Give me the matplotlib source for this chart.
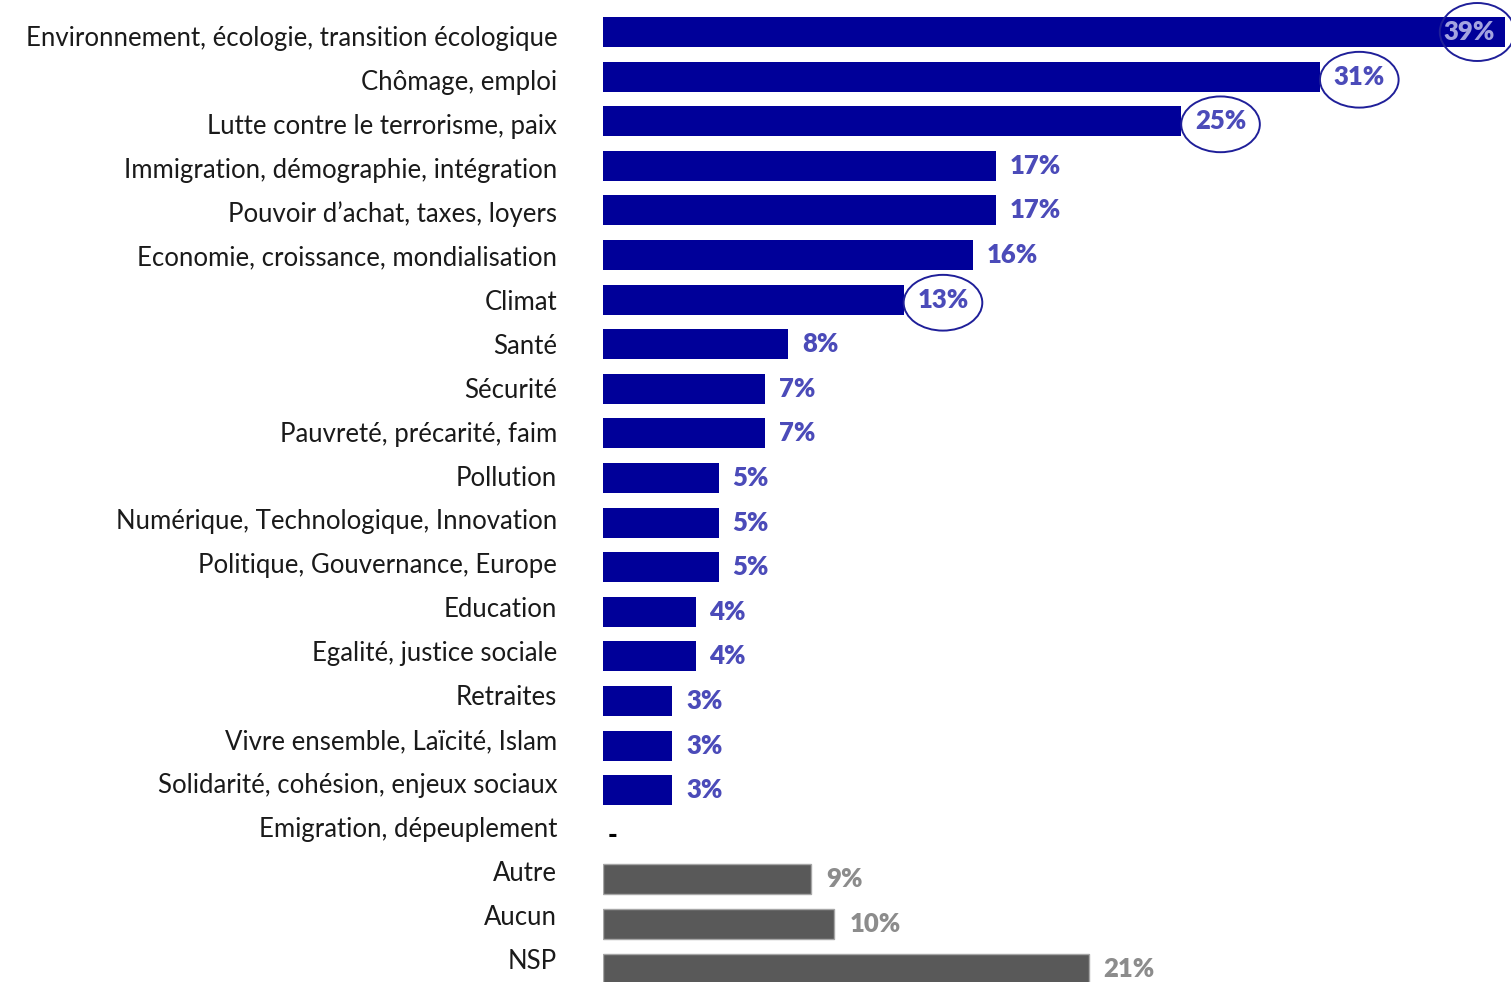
import matplotlib
matplotlib.use("Agg")
import matplotlib.pyplot as plt
from matplotlib.patches import Ellipse

categories = [
    "Environnement, écologie, transition écologique",
    "Chômage, emploi",
    "Lutte contre le terrorisme, paix",
    "Immigration, démographie, intégration",
    "Pouvoir d’achat, taxes, loyers",
    "Economie, croissance, mondialisation",
    "Climat",
    "Santé",
    "Sécurité",
    "Pauvreté, précarité, faim",
    "Pollution",
    "Numérique, Technologique, Innovation",
    "Politique, Gouvernance, Europe",
    "Education",
    "Egalité, justice sociale",
    "Retraites",
    "Vivre ensemble, Laïcité, Islam",
    "Solidarité, cohésion, enjeux sociaux",
    "Emigration, dépeuplement",
    "Autre",
    "Aucun",
    "NSP",
]
values = [39, 31, 25, 17, 17, 16, 13, 8, 7, 7, 5, 5, 5, 4, 4, 3, 3, 3, None, 9, 10, 21]
is_other = [False] * 19 + [True, True, True]
circled = ["Environnement, écologie, transition écologique", "Chômage, emploi",
           "Lutte contre le terrorisme, paix", "Climat"]

BLUE = "#000099"
BLUE_TXT = "#4B4BB9"
GREY = "#595959"
GREY_TXT = "#8C8C8C"
FS = 18.5
VW = "heavy"

plt.rcParams['font.family'] = ['Lato', 'DejaVu Sans']

fig = plt.figure(figsize=(15.11, 9.82), dpi=100)
W, H = 1511, 982
ax = fig.add_axes([603 / W, 0, (W - 603) / W, 1])

px_per_unit = 902 / 39.0
row_px = 44.6
ax.set_xlim(0, (W - 603) / px_per_unit)
ax.set_ylim((H - 32) / row_px, -32 / row_px)

ys = list(range(len(categories)))
for y, cat, v, oth in zip(ys, categories, values, is_other):
    if v is None:
        ax.text(0.2, y, "-", ha="left", va="center", fontsize=FS, fontweight=VW, color="black")
        continue
    if oth:
        ax.barh(y, v, height=0.67, color=GREY, edgecolor="#A6A6A6", linewidth=1.0)
        ax.text(v + 0.65, y, f"{v}%", ha="left", va="center", fontsize=FS,
                fontweight=VW, color=GREY_TXT)
    else:
        ax.barh(y, v, height=0.67, color=BLUE, linewidth=0)
        if cat in circled:
            if v == max(values[:18]):
                cx, w, h, dy = v - 1.2, 3.24, 1.3, 0.0
                ax.text(v - 0.45, y, f"{v}%", ha="right", va="center", fontsize=FS,
                        fontweight=VW, color="#A3A3E0")
            else:
                cx, w, h, dy = v + 1.7, 3.4, 1.25, 0.07
                ax.text(cx, y, f"{v}%", ha="center", va="center", fontsize=FS,
                        fontweight=VW, color=BLUE_TXT)
            ax.add_patch(Ellipse((cx, y + dy), w, h, fill=False, edgecolor="#1F1F99",
                                 linewidth=1.4, clip_on=False))
        else:
            ax.text(v + 0.6, y, f"{v}%", ha="left", va="center", fontsize=FS,
                    fontweight=VW, color=BLUE_TXT)

label_pos = [y * (43.95 / row_px) + 4 / row_px for y in ys]
ax.set_yticks(label_pos)
ax.set_yticklabels(categories, fontsize=FS, color="#1a1a1a")
ax.tick_params(axis="y", length=0, pad=33)
ax.tick_params(axis="x", bottom=False, labelbottom=False)
for s in ax.spines.values():
    s.set_visible(False)

fig.savefig("out.png", dpi=100)
